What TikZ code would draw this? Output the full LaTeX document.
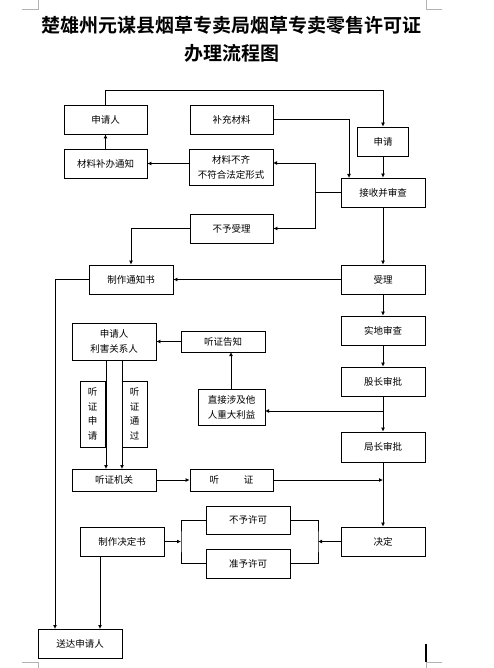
\documentclass[tikz,border=0pt]{standalone}
\usepackage{fontspec}
\setmainfont{Noto Sans CJK SC}
\newfontfamily\cjkbold{Noto Sans CJK SC Bold}
\usetikzlibrary{arrows.meta,positioning}
\tikzset{
  box/.style={draw, line width=0.8pt, inner sep=0pt, align=center, font=\fontsize{9.5}{15}\selectfont},
  arr/.style={line width=0.8pt, -{Latex[length=4pt,width=4pt]}},
  ln/.style={line width=0.8pt}
}
\begin{document}
\begin{tikzpicture}[x=1pt,y=-1pt]
\useasboundingbox (0,0) rectangle (493,668);
\fill[white] (0,0) rectangle (493,668);
% page marks
\draw[gray!60, line width=0.6pt] (22,9) -- (38,9) -- (38,0);
\draw[gray!60, line width=0.6pt] (442,9) -- (426,9) -- (426,0);
\draw[gray!60, line width=0.6pt] (22,662) -- (38,662) -- (38,668);
\draw[gray!60, line width=0.6pt] (442,662) -- (426,662) -- (426,668);
\draw[black, line width=1.6pt] (426,644) -- (426,662);
% title
\node[font=\cjkbold\fontsize{19}{19}\selectfont] (t1) at (231.5,25) {楚雄州元谋县烟草专卖局烟草专卖零售许可证};
\node[font=\cjkbold\fontsize{19}{19}\selectfont] (t2) at (231.5,53) {办理流程图};
% boxes
\node[box, minimum width=83pt, minimum height=29pt] (sqr) at (105.5,119.5) {申请人};
\node[box, minimum width=83pt, minimum height=29pt] (bc) at (231.5,119.5) {补充材料};
\node[box, minimum width=83pt, minimum height=29pt] (tz) at (105.5,163.5) {材料补办通知};
\node[box, minimum width=84pt, minimum height=36pt] (bq) at (231,167) {材料不齐\\不符合法定形式};
\node[box, minimum width=51pt, minimum height=29pt] (sq) at (383,141.5) {申请};
\node[box, minimum width=84pt, minimum height=29pt] (js) at (383,192.5) {接收并审查};
\node[box, minimum width=83pt, minimum height=29pt] (bysl) at (231.5,228.5) {不予受理};
\node[box, minimum width=84pt, minimum height=29pt] (zz) at (131,279.5) {制作通知书};
\node[box, minimum width=84pt, minimum height=29pt] (sl) at (383,279.5) {受理};
\node[box, minimum width=84pt, minimum height=29pt] (sd) at (383,330.5) {实地审查};
\node[box, minimum width=84pt, minimum height=29pt] (gz) at (383,381.5) {股长审批};
\node[box, minimum width=84pt, minimum height=30pt] (jz) at (383,447) {局长审批};
\node[box, minimum width=84pt, minimum height=37pt] (lh) at (114,341.5) {申请人\\利害关系人};
\node[box, minimum width=84pt, minimum height=21pt] (tzgz) at (223,341.5) {听证告知};
\node[box, minimum width=67pt, minimum height=36pt] (zj) at (231.5,407) {直接涉及他\\人重大利益};
\node[box, minimum width=25pt, minimum height=66pt, font=\fontsize{9.5}{14.5}\selectfont] (tsq) at (92.5,414) {听\\证\\申\\请};
\node[box, minimum width=25pt, minimum height=66pt, font=\fontsize{9.5}{14.5}\selectfont] (ttg) at (134.5,414) {听\\证\\通\\过};
\node[box, minimum width=84pt, minimum height=22pt] (tzjg) at (114,480) {听证机关};
\node[box, minimum width=83pt, minimum height=22pt] (tz2) at (231.5,480) {听\hspace{25pt}证};
\node[box, minimum width=84pt, minimum height=28pt] (byxk) at (248,520) {不予许可};
\node[box, minimum width=84pt, minimum height=29pt] (zyxk) at (248,563.5) {准予许可};
\node[box, minimum width=84pt, minimum height=29pt] (jds) at (122,541.5) {制作决定书};
\node[box, minimum width=84pt, minimum height=29pt] (jd) at (383,541.5) {决定};
\node[box, minimum width=84pt, minimum height=29pt] (sdr) at (80,643.5) {送达申请人};
% helper coordinates
\coordinate (ctop) at (383,90);
\coordinate (cin) at (349,178);
\coordinate (cv) at (315,192.5);
\coordinate (cv1) at (315,163);
\coordinate (cv2) at (315,228.5);
\coordinate (bqin) at (273,163);
\coordinate (c55) at (55,629);
\coordinate (l1a) at (106,360);
\coordinate (l1b) at (106,469);
\coordinate (l2a) at (122,360);
\coordinate (l2b) at (122,469);
\coordinate (m480) at (383,480);
\coordinate (m411) at (383,411);
\coordinate (zjin) at (265,411);
\coordinate (zjup) at (231,389);
\coordinate (tzin) at (231,352);
\coordinate (bl) at (181,541.5);
\coordinate (br) at (318,541.5);
\coordinate (d1) at (100,556);
\coordinate (d2) at (100,629);
% connectors
\draw[arr] (sqr.north) |- (ctop) -- (sq.north);
\draw[arr] (bc.east) -| (cin);
\draw[arr] (sq.south) -- (js.north);
\draw[ln] (js.west) -- (cv);
\draw[ln] (cv1) -- (cv2);
\draw[arr] (cv1) -- (bqin);
\draw[arr] (cv2) -- (bysl.east);
\draw[arr] (tz.north) -- (sqr.south);
\draw[arr] (bq.west |- tz.east) -- (tz.east);
\draw[arr] (bysl.west) -| (zz.north);
\draw[arr] (sl.west) -- (zz.east);
\draw[arr] (zz.west) -| (c55);
\draw[arr] (js.south) -- (sl.north);
\draw[arr] (sl.south) -- (sd.north);
\draw[arr] (sd.south) -- (gz.north);
\draw[arr] (gz.south) -- (jz.north);
\draw[arr] (jz.south) -- (jd.north);
\draw[arr] (m411) -- (zjin);
\draw[arr] (zjup) -- (tzin);
\draw[arr] (tzgz.west) -- (lh.east);
\draw[arr] (l1a) -- (l1b);
\draw[arr] (l2a) -- (l2b);
\draw[arr] (tzjg.east) -- (tz2.west);
\draw[arr] (tz2.east) -- (m480);
\draw[ln] (byxk.west) -| (bl) |- (zyxk.west);
\draw[arr] (jds.east) -- (bl);
\draw[ln] (byxk.east) -| (br) |- (zyxk.east);
\draw[arr] (jd.west) -- (br);
\draw[arr] (d1) -- (d2);
\end{tikzpicture}
\end{document}
